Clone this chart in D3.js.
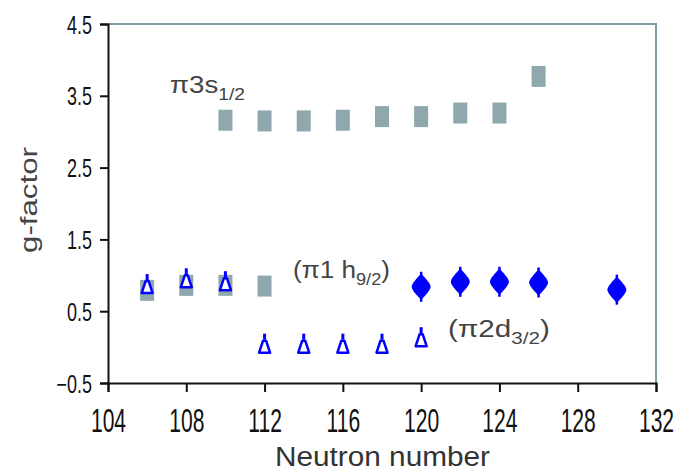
<!DOCTYPE html>
<html>
<head>
<meta charset="utf-8">
<script src="https://cdn.jsdelivr.net/npm/d3@7"></script>
<style>
  body { margin: 0; background: #fff; }
  text { font-family: "Liberation Sans", Arial, sans-serif; }
</style>
</head>
<body>
<script>
const width = 677,
      height = 475;
const margin = {top: 24, right: 21, bottom: 92, left: 108};

// pi 3s1/2 (grey squares, upper row)
const s12N = [110, 112, 114, 116, 118, 120, 122, 124, 126];
const s12G = [3.16, 3.15, 3.15, 3.16, 3.21, 3.21, 3.26, 3.26, 3.77];
// pi 1h9/2 (grey squares, lower row)
const h92SqN = [106, 108, 110, 112];
const h92SqG = [0.79, 0.86, 0.86, 0.85];
// open triangles
const triN = [106, 108, 110, 112, 114, 116, 118, 120];
const triG = [0.85, 0.93, 0.89, 0.02, 0.02, 0.02, 0.02, 0.11];
// filled diamonds
const diaN = [120, 122, 124, 126, 130];
const diaG = [0.84, 0.91, 0.91, 0.90, 0.80];

const xTicks = [104, 108, 112, 116, 120, 124, 128, 132];
const yTicks = [-0.5, 0.5, 1.5, 2.5, 3.5, 4.5];

const grey = "#8fa8ad",
      blue = "#0000ff",
      frame = "#7f9ca2";

const svg = d3.select("body")
              .append("svg")
              .attr("width", width)
              .attr("height", height);

const x = d3.scaleLinear().domain([104, 132]).range([margin.left, width - margin.right]);
const y = d3.scaleLinear().domain([-0.5, 4.5]).range([height - margin.bottom, margin.top]);

// grey frame on top and right
svg.append("path")
   .attr("d", "M" + x(104) + "," + y(4.5) + "H" + x(132) + "V" + y(-0.5))
   .attr("fill", "none")
   .attr("stroke", frame)
   .attr("stroke-width", 2);

// axes
const xAxis = svg.append("g")
   .attr("transform", "translate(0," + y(-0.5) + ")")
   .call(d3.axisBottom(x).tickValues(xTicks).tickSize(9).tickPadding(0).tickFormat(d3.format("d")));
xAxis.selectAll("text")
   .attr("dy", null)
   .attr("y", 0)
   .attr("x", 0)
   .attr("transform", "translate(0,49) scale(0.62,1)")
   .style("font-size", "34px")
   .attr("fill", "#111");

const yAxis = svg.append("g")
   .attr("transform", "translate(" + x(104) + ",0)")
   .call(d3.axisLeft(y).tickValues(yTicks).tickSize(8).tickPadding(0).tickFormat(d3.format(".1f")));
yAxis.selectAll("text")
   .attr("x", 0)
   .attr("dy", null)
   .attr("transform", "translate(-16,9) scale(0.72,1)")
   .style("font-size", "25px")
   .attr("fill", "#111");

svg.selectAll(".domain").attr("stroke", "#111").attr("stroke-width", 2);
svg.selectAll(".tick line").attr("stroke", "#111").attr("stroke-width", 2);

// squares
const sq = {w: 14, h: 21};
svg.append("g")
   .selectAll("rect")
   .data(d3.zip(h92SqN, h92SqG).concat(d3.zip(s12N, s12G)))
   .enter()
   .append("rect")
   .attr("x", d => x(d[0]) - sq.w / 2)
   .attr("y", d => y(d[1]) - sq.h / 2)
   .attr("width", sq.w)
   .attr("height", sq.h)
   .attr("fill", grey);

// open triangles with small error tick
const tri = svg.append("g").selectAll("g")
   .data(d3.zip(triN, triG))
   .enter()
   .append("g")
   .attr("transform", d => "translate(" + x(d[0]) + "," + y(d[1]) + ")");
tri.append("line")
   .attr("y1", -6).attr("y2", -12)
   .attr("stroke", blue).attr("stroke-width", 3);
tri.append("path")
   .attr("d", "M-5.5,7L5.5,7L1.5,-5L-1.5,-5Z")
   .attr("fill", "#fff")
   .attr("stroke", blue)
   .attr("stroke-width", 2.5)
   .attr("stroke-linejoin", "round");

// filled diamonds with error bar
const dia = svg.append("g").selectAll("g")
   .data(d3.zip(diaN, diaG))
   .enter()
   .append("g")
   .attr("transform", d => "translate(" + x(d[0]) + "," + y(d[1]) + ")");
dia.append("line")
   .attr("y1", -15).attr("y2", 15)
   .attr("stroke", blue).attr("stroke-width", 2.5);
dia.append("path")
   .attr("d", "M0,-13C4,-9 9.5,-3 9.5,0C9.5,3 4,9 0,13C-4,9 -9.5,3 -9.5,0C-9.5,-3 -4,-9 0,-13Z")
   .attr("fill", blue);

// orbital labels
function label(px, py, main, sub, close, len) {
  const t = svg.append("text")
     .attr("x", px).attr("y", py)
     .attr("fill", "#444")
     .attr("textLength", len)
     .attr("lengthAdjust", "spacingAndGlyphs")
     .style("font-size", "23px");
  t.append("tspan").text(main);
  t.append("tspan").attr("dy", 7).style("font-size", "16px").text(sub);
  if (close) t.append("tspan").attr("dy", -7).text(")");
}
label(170, 93, "π3s", "1/2", false, 75);
label(293, 278, "(π1 h", "9/2", true, 97);
label(448, 337, "(π2d", "3/2", true, 102);

// axis titles
svg.append("text")
   .attr("x", 275)
   .attr("y", 466)
   .attr("textLength", 215)
   .attr("lengthAdjust", "spacingAndGlyphs")
   .attr("fill", "#333")
   .style("font-size", "27px")
   .text("Neutron number");

svg.append("text")
   .attr("transform", "translate(37,253) rotate(-90)")
   .attr("textLength", 106)
   .attr("lengthAdjust", "spacingAndGlyphs")
   .attr("fill", "#444")
   .style("font-size", "24px")
   .text("g-factor");
</script>
</body>
</html>
